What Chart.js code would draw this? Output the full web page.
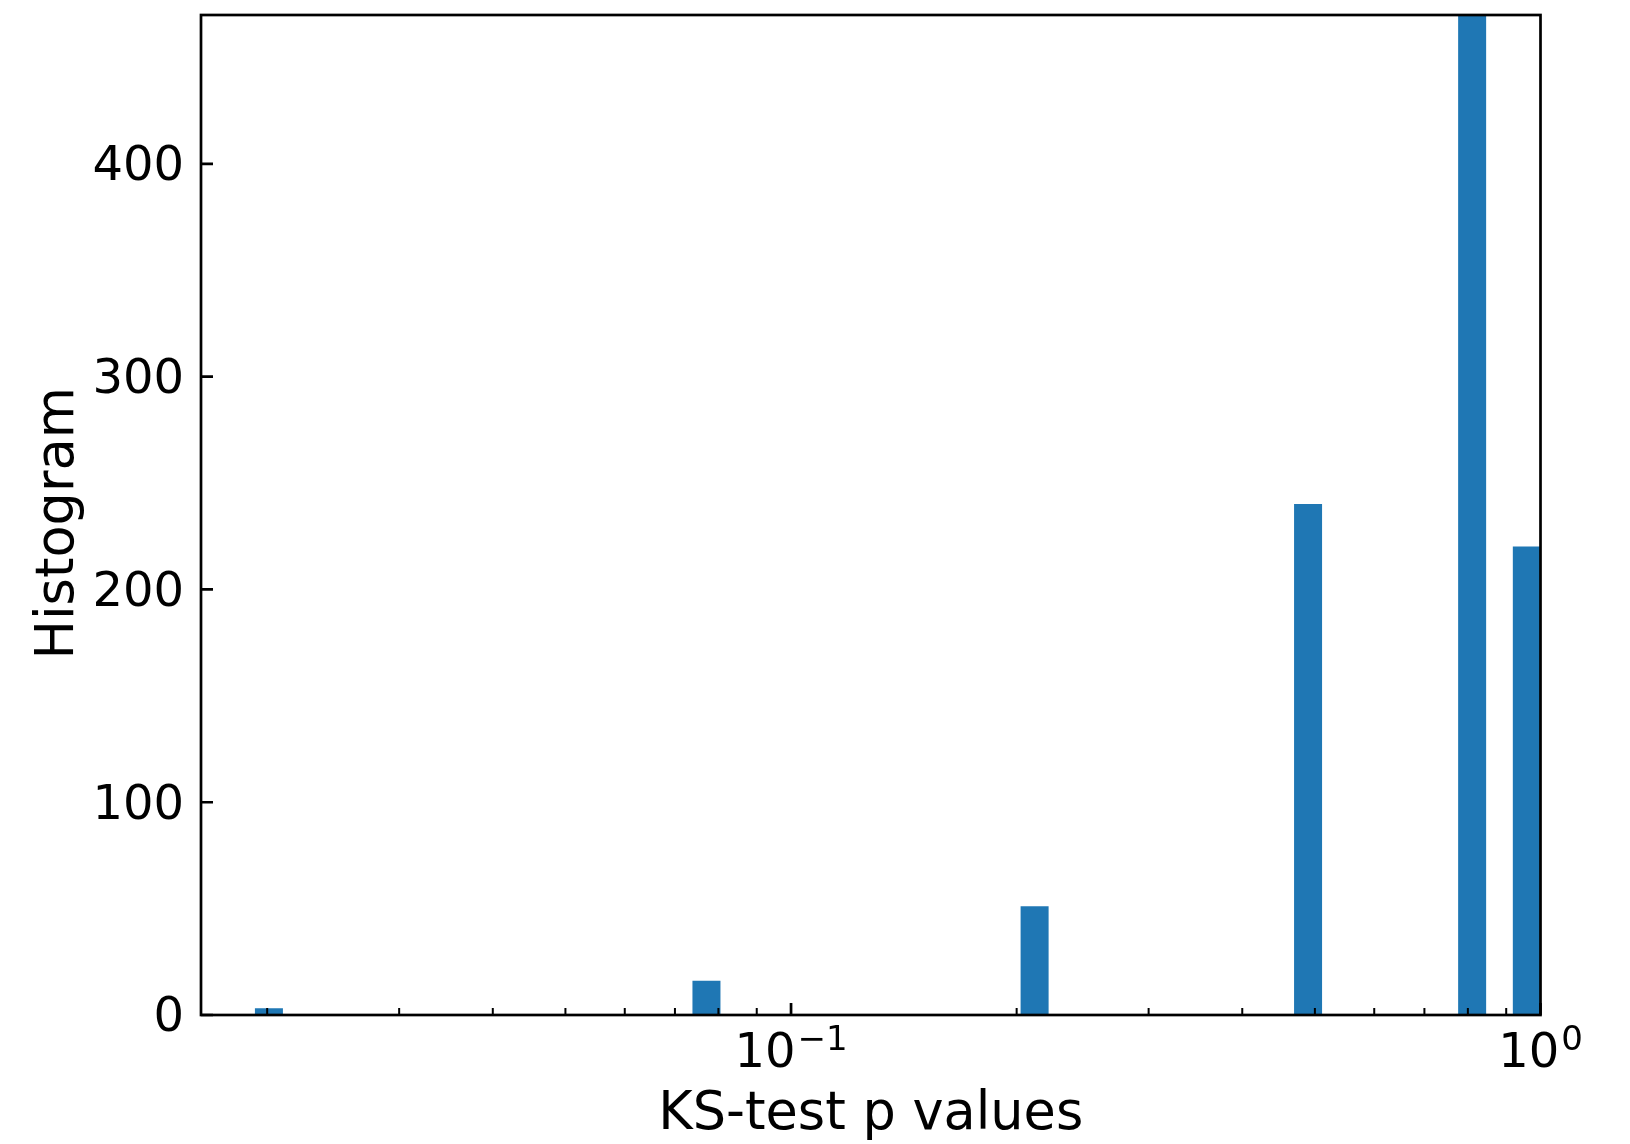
<!DOCTYPE html>
<html>
<head>
<meta charset="utf-8">
<script src="https://cdn.jsdelivr.net/npm/chart.js@4/dist/chart.umd.min.js"></script>
<style>
  html, body { margin: 0; padding: 0; background: #ffffff; }
  #wrap { width: 1630px; height: 1144px; position: relative; }
</style>
</head>
<body>
<div id="wrap"><canvas id="chart"></canvas></div>
<script>
// Histogram of KS-test p values: logarithmically spaced bins from pLow to pHigh
const pLow = 0.01928;
const pHigh = 1;
const binTotal = 47;
const occupiedBins = [0, 16, 28, 38, 44, 46];
const occupiedCounts = [3, 16, 51, 240, 470, 220];

// axis ranges and ticks
const xRange = [0.01632, 1];
const yRange = [0, 470];
const yTicks = [0, 100, 200, 300, 400];
const xMajorTicks = [0.1, 1];
const xTickBase = ['10', '10'];
const xTickExponent = ['\u22121', '0'];
const xMinorTicks = [0.02, 0.03, 0.04, 0.05, 0.06, 0.07, 0.08, 0.09,
                     0.2, 0.3, 0.4, 0.5, 0.6, 0.7, 0.8, 0.9];

// bin edges (equal width in log space) and the count in every bin
const logLo = Math.log10(pLow), logHi = Math.log10(pHigh);
const binEdges = [];
for (let i = 0; i <= binTotal; i++) binEdges.push(Math.pow(10, logLo + (logHi - logLo) * i / binTotal));
const histCounts = new Array(binTotal).fill(0);
occupiedBins.forEach((b, k) => { histCounts[b] = occupiedCounts[k]; });
const histData = histCounts.map((c, i) => ({ x: Math.sqrt(binEdges[i] * binEdges[i + 1]), y: c }));

const FAMILY = 'DejaVu Sans';
const TICK_FONT = { family: FAMILY, size: 48 };
const TITLE_FONT = { family: FAMILY, size: 52.5, lineHeight: 1.1 };
const INK = '#000000';

// inward tick marks, power-of-ten tick labels and the frame around the plot area
const axesDecor = {
  id: 'axesDecor',
  afterDraw(chart) {
    const { ctx, chartArea: a } = chart;
    const xs = chart.scales.x, ys = chart.scales.y;
    ctx.save();
    ctx.strokeStyle = INK;

    // minor ticks along the p axis
    ctx.lineWidth = 2;
    ctx.beginPath();
    xMinorTicks.forEach(v => {
      const px = xs.getPixelForValue(v);
      ctx.moveTo(px, a.bottom);
      ctx.lineTo(px, a.bottom - 7);
    });
    ctx.stroke();

    // major ticks on both axes
    ctx.lineWidth = 2.7;
    ctx.beginPath();
    xMajorTicks.forEach(v => {
      const px = xs.getPixelForValue(v);
      ctx.moveTo(px, a.bottom);
      ctx.lineTo(px, a.bottom - 12);
    });
    yTicks.forEach(v => {
      const py = ys.getPixelForValue(v);
      ctx.moveTo(a.left, py);
      ctx.lineTo(a.left + 12, py);
    });
    ctx.stroke();

    // frame
    ctx.strokeRect(a.left, a.top, a.right - a.left, a.bottom - a.top);

    // p-axis labels written as 10 with a raised exponent
    ctx.fillStyle = INK;
    ctx.textBaseline = 'alphabetic';
    ctx.textAlign = 'left';
    const baseFont = '48px "' + FAMILY + '"';
    const supFont = '34px "' + FAMILY + '"';
    const baseline = a.bottom + 52;
    xMajorTicks.forEach((v, k) => {
      const px = xs.getPixelForValue(v);
      ctx.font = baseFont;
      const wb = ctx.measureText(xTickBase[k]).width;
      ctx.font = supFont;
      const ws = ctx.measureText(xTickExponent[k]).width;
      const gap = 2;
      const x0 = px - (wb + gap + ws) / 2;
      ctx.font = baseFont;
      ctx.fillText(xTickBase[k], x0, baseline);
      ctx.font = supFont;
      ctx.fillText(xTickExponent[k], x0 + wb + gap, baseline - 17.5);
    });
    ctx.restore();
  }
};

new Chart(document.getElementById('chart'), {
  type: 'bar',
  data: {
    datasets: [{
      data: histData,
      backgroundColor: '#1f77b4',
      borderWidth: 0,
      barPercentage: 1.0,
      categoryPercentage: 1.0
    }]
  },
  options: {
    responsive: true,
    maintainAspectRatio: false,
    animation: false,
    devicePixelRatio: 1,
    layout: { padding: { top: 15, right: 89.5, bottom: 0, left: 0 } },
    plugins: {
      legend: { display: false },
      tooltip: { enabled: false }
    },
    scales: {
      x: {
        type: 'logarithmic',
        position: 'bottom',
        min: xRange[0],
        max: xRange[1],
        afterBuildTicks: s => { s.ticks = xMajorTicks.map(v => ({ value: v })); },
        afterFit: s => { s.height = 129; s.paddingLeft = 0; s.paddingRight = 0; },
        border: { display: false },
        grid: { display: false, drawTicks: false },
        ticks: { display: false, autoSkip: false, maxRotation: 0, minRotation: 0 },
        title: {
          display: true,
          text: 'KS-test p values',
          font: TITLE_FONT,
          color: INK,
          padding: { top: 0, bottom: 0 }
        }
      },
      y: {
        type: 'linear',
        position: 'left',
        min: yRange[0],
        max: yRange[1],
        afterBuildTicks: s => { s.ticks = yTicks.map(v => ({ value: v })); },
        afterFit: s => { s.width = 201; s.paddingTop = 0; s.paddingBottom = 0; },
        border: { display: false },
        grid: { display: false, drawTicks: false },
        ticks: {
          font: TICK_FONT,
          color: INK,
          padding: 17,
          labelOffset: 4,
          callback: v => String(v)
        },
        title: {
          display: true,
          text: 'Histogram ',
          font: TITLE_FONT,
          color: INK,
          padding: { top: 30.5, bottom: 0 }
        }
      }
    }
  },
  plugins: [axesDecor]
});
</script>
</body>
</html>
